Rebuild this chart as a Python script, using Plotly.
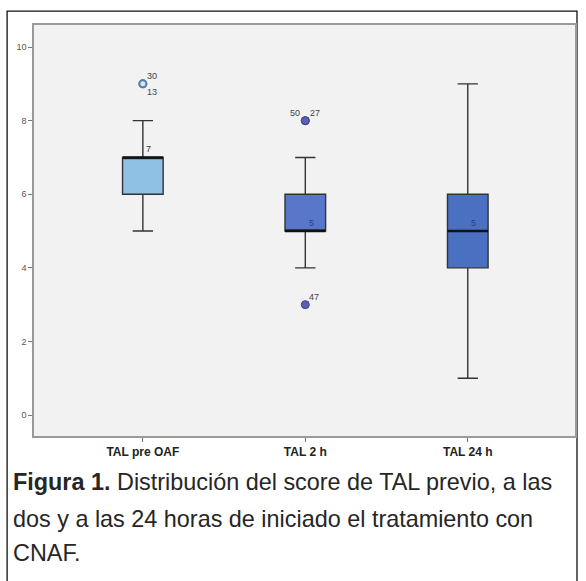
import plotly.graph_objects as go

categories = ["TAL pre OAF", "TAL 2 h", "TAL 24 h"]
q1 = [6, 5, 4]
median = [7, 5, 5]
q3 = [7, 6, 6]
lower_fence = [5, 4, 1]
upper_fence = [8, 7, 9]
box_colors = ["#8fc1e4", "#5877c8", "#4b70c1"]
median_labels = ["7", "5", "5"]
median_label_colors = ["#333333", "#2a3f8f", "#2a3f8f"]

outlier_cat = ["TAL pre OAF", "TAL pre OAF", "TAL 2 h", "TAL 2 h", "TAL 2 h"]
outlier_val = [9, 9, 8, 8, 3]
outlier_id = ["30", "13", "50", "27", "47"]
outlier_label_pos = [(9, -8), (9, 8), (-10, -8), (10, -8), (9, -8)]

y_ticks = [0, 2, 4, 6, 8, 10]

caption_lines = [
    "<b>Figura 1.</b> Distribución del score de TAL previo, a las",
    "dos y a las 24 horas de iniciado el tratamiento con",
    "CNAF.",
]
caption_y = [-0.112, -0.202, -0.285]

fig = go.Figure()

for i, c in enumerate(categories):
    fig.add_trace(go.Box(
        x=[c], q1=[q1[i]], median=[median[i]], q3=[q3[i]],
        lowerfence=[lower_fence[i]], upperfence=[upper_fence[i]],
        fillcolor=box_colors[i], line=dict(color="#333333", width=1.4),
        whiskerwidth=0.5, width=0.25, boxpoints=False, showlegend=False,
        hoverinfo="skip"))
    # thick median bar
    fig.add_trace(go.Box(
        x=[c], q1=[median[i]], median=[median[i]], q3=[median[i]],
        lowerfence=[median[i]], upperfence=[median[i]],
        fillcolor="rgba(0,0,0,0)", line=dict(color="#111111", width=2.6),
        whiskerwidth=0, width=0.25, boxpoints=False, showlegend=False,
        hoverinfo="skip"))

# outliers: pre OAF open ring, 2 h filled
pre_x = [x for x, v in zip(outlier_cat, outlier_val) if x == categories[0]]
pre_y = [v for x, v in zip(outlier_cat, outlier_val) if x == categories[0]]
oth_x = [x for x, v in zip(outlier_cat, outlier_val) if x != categories[0]]
oth_y = [v for x, v in zip(outlier_cat, outlier_val) if x != categories[0]]
fig.add_trace(go.Scatter(x=pre_x, y=pre_y, mode="markers",
                         marker=dict(size=7, color="#d8e6f2",
                                     line=dict(color="#5a7ea6", width=2)),
                         showlegend=False, hoverinfo="skip"))
fig.add_trace(go.Scatter(x=oth_x, y=oth_y, mode="markers",
                         marker=dict(size=8, color="#5d60b0",
                                     line=dict(color="#3e4090", width=1)),
                         showlegend=False, hoverinfo="skip"))

for c, v, t, (dx, dy) in zip(outlier_cat, outlier_val, outlier_id, outlier_label_pos):
    fig.add_annotation(x=c, y=v, text=t, showarrow=False, xshift=dx, yshift=-dy,
                       font=dict(family="Liberation Sans, Arial", size=9, color="#444444"))

for i, c in enumerate(categories):
    fig.add_annotation(x=c, y=median[i], text=median_labels[i], showarrow=False,
                       xshift=6, yshift=8,
                       font=dict(family="Liberation Sans, Arial", size=9,
                                 color=median_label_colors[i]))

# caption
for line, yy in zip(caption_lines, caption_y):
    fig.add_annotation(
        xref="paper", yref="paper", x=-0.042, y=yy, xanchor="left", yanchor="middle",
        align="left", showarrow=False, text=line,
        font=dict(family="Liberation Sans, Arial", size=23.4, color="#262626"))

# outer frame
fig.add_shape(type="rect", xref="paper", yref="paper",
              x0=-0.0497, x1=1.0037, y0=-0.45, y1=1.034,
              line=dict(color="#111111", width=1.3), fillcolor="rgba(0,0,0,0)",
              layer="below")

fig.update_layout(
    width=586, height=581,
    margin=dict(l=34, r=9, t=25, b=145),
    paper_bgcolor="white", plot_bgcolor="#f2f2f2",
    boxmode="overlay",
    font=dict(family="Liberation Sans, Arial"),
)
fig.update_xaxes(type="category", categoryorder="array", categoryarray=categories,
                 range=[-0.67, 2.66], showline=True, linecolor="#9a9a9a", linewidth=1.5,
                 mirror=True, ticks="outside", ticklen=4, tickcolor="#777777",
                 showgrid=False, zeroline=False,
                 tickfont=dict(family="Liberation Sans, Arial", size=12, color="#222222"),
                 ticktext=["<b>%s</b>" % c for c in categories], tickvals=categories)
fig.update_yaxes(range=[-0.57, 10.6], tickvals=y_ticks, showline=True,
                 linecolor="#9a9a9a", linewidth=1.5, mirror=True, ticks="outside",
                 ticklen=4, tickcolor="#777777", showgrid=False, zeroline=False,
                 tickfont=dict(family="Liberation Sans, Arial", size=9, color="#555555"))

fig.write_html("out.html", config={"displayModeBar": False},
               post_script="document.body.style.margin='0';")
